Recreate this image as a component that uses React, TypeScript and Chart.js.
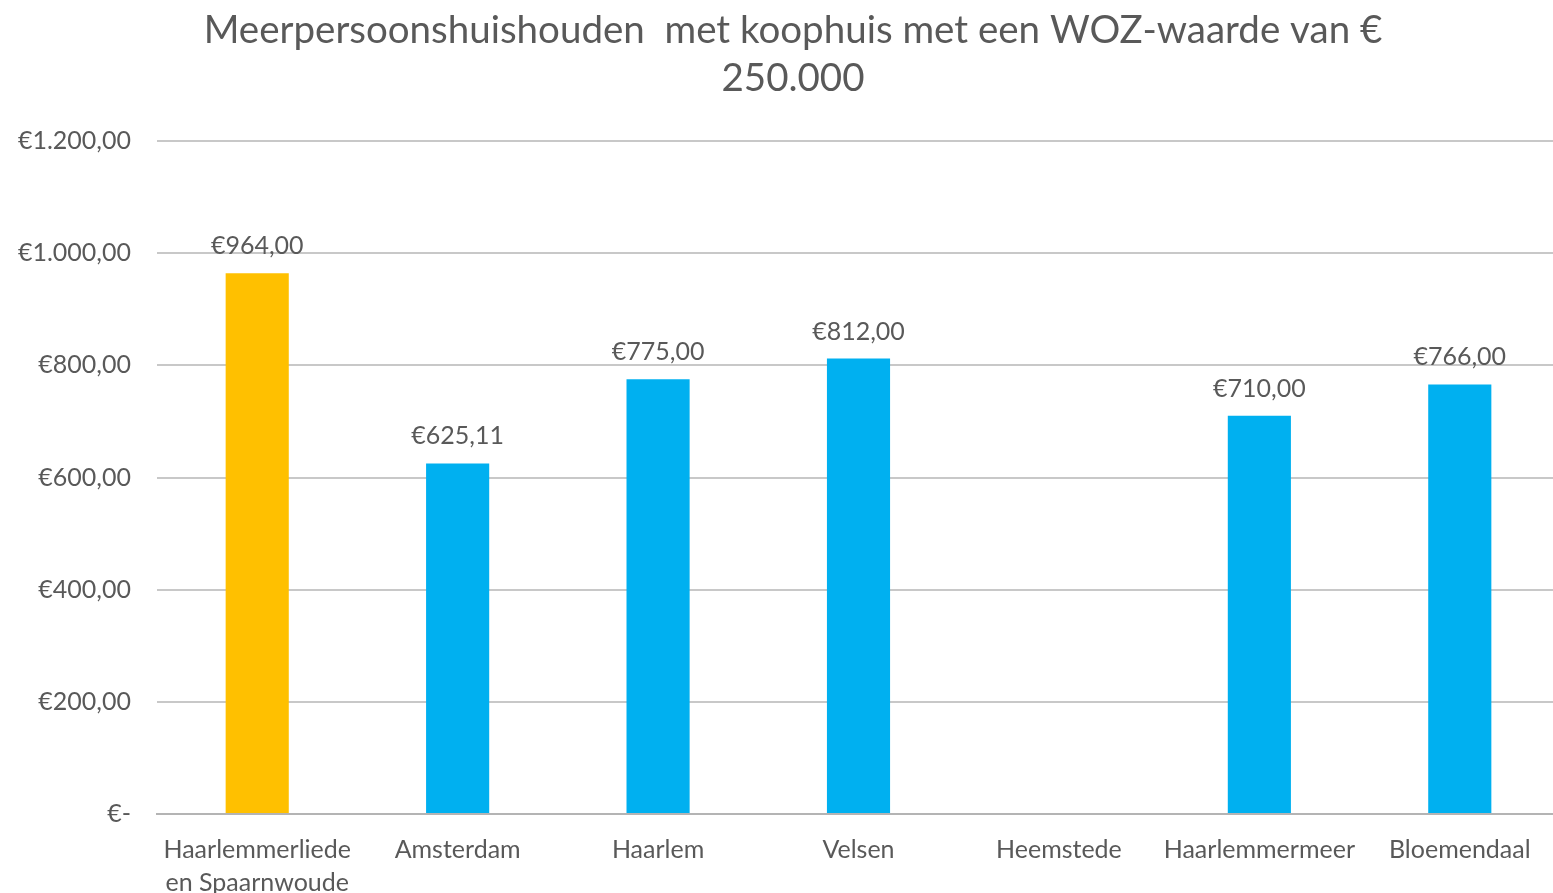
import React, { useEffect, useRef } from "react";
import { Chart, registerables } from "chart.js";

Chart.register(...registerables);

const categories: (string | string[])[] = [
  ["Haarlemmerliede", "en Spaarnwoude"],
  "Amsterdam",
  "Haarlem",
  "Velsen",
  "Heemstede",
  "Haarlemmermeer",
  "Bloemendaal",
];
const values: (number | null)[] = [964, 625.11, 775, 812, null, 710, 766];
const barColors = ["#FFC000", "#00B0F0", "#00B0F0", "#00B0F0", "#00B0F0", "#00B0F0", "#00B0F0"];
const titleLines = ["Meerpersoonshuishouden  met koophuis met een WOZ-waarde van €", "250.000"];
const yMin = 0;
const yMax = 1200;
const yStep = 200;

const FONT = "Lato, 'Open Sans', sans-serif";
const TEXT = "#595959";

function euro(v: number): string {
  if (v === 0) return "€-";
  const fixed = v.toFixed(2);
  const [intPart, dec] = fixed.split(".");
  const withDots = intPart.replace(/\B(?=(\d{3})+(?!\d))/g, ".");
  return "€" + withDots + "," + dec;
}

const dataLabels = {
  id: "dataLabels",
  afterDatasetsDraw(chart: any) {
    const ctx = chart.ctx;
    const meta = chart.getDatasetMeta(0);
    ctx.save();
    ctx.font = `25px ${FONT}`;
    ctx.fillStyle = TEXT;
    ctx.textAlign = "center";
    ctx.textBaseline = "middle";
    meta.data.forEach((el: any, i: number) => {
      const v = values[i];
      if (v === null || v === undefined) return;
      ctx.fillText(euro(v), el.x, el.y - 27);
    });
    ctx.restore();
  },
};

const titlePlugin = {
  id: "customTitle",
  afterDraw(chart: any) {
    const ctx = chart.ctx;
    ctx.save();
    ctx.font = `38.5px ${FONT}`;
    ctx.fillStyle = TEXT;
    ctx.textAlign = "center";
    ctx.textBaseline = "middle";
    ctx.fillText(titleLines[0], 793, 31);
    ctx.fillText(titleLines[1], 793, 79);
    ctx.restore();
  },
};

export default function App() {
  const ref = useRef<HTMLCanvasElement | null>(null);
  useEffect(() => {
    document.body.style.margin = "0";
    const chart = new Chart(ref.current as HTMLCanvasElement, {
      type: "bar",
      data: {
        labels: categories,
        datasets: [
          {
            data: values,
            backgroundColor: barColors,
            borderWidth: 0,
            categoryPercentage: 1,
            barPercentage: 0.315,
          },
        ],
      },
      options: {
        animation: false,
        responsive: false,
        layout: { padding: { left: 0, right: 0, top: 141, bottom: 0 } },
        plugins: {
          legend: { display: false },
          tooltip: { enabled: false },
          title: { display: false },
        },
        scales: {
          x: {
            grid: { display: false },
            border: { display: true, color: "#B4B4B4", width: 2 },
            ticks: {
              color: TEXT,
              font: { family: FONT, size: 25, lineHeight: 1.3 },
              maxRotation: 0,
              autoSkip: false,
              padding: 12,
            },
            afterFit(scale: any) {
              scale.height = 79;
            },
          },
          y: {
            min: yMin,
            max: yMax,
            grid: { color: "#C8C8C8", lineWidth: 2, drawTicks: false },
            border: { display: false },
            ticks: {
              stepSize: yStep,
              color: TEXT,
              font: { family: FONT, size: 25 },
              padding: 26,
              callback: (v: any) => euro(Number(v)),
            },
            afterFit(scale: any) {
              scale.width = 157;
            },
          },
        },
      },
      plugins: [dataLabels, titlePlugin],
    });
    return () => chart.destroy();
  }, []);
  return (
    <div style={{ width: 1553, height: 893, overflow: "hidden" }}>
      <canvas ref={ref} width={1560} height={893} style={{ display: "block" }} />
    </div>
  );
}
